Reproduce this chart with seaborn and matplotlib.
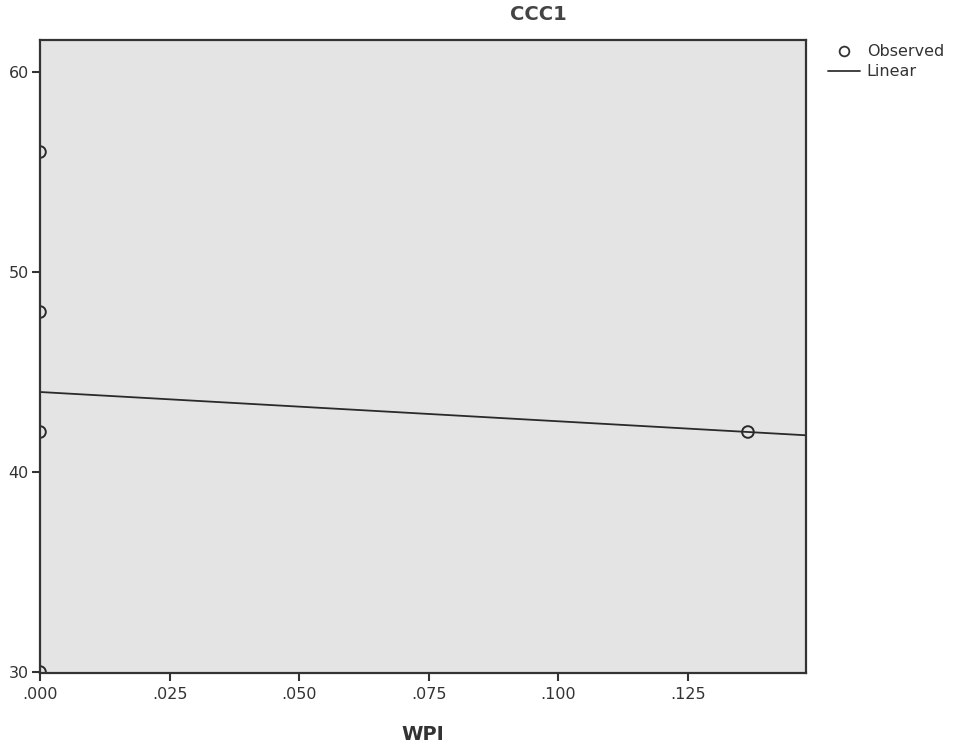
import numpy as np
import pandas as pd
import matplotlib
matplotlib.use("Agg")
import matplotlib.pyplot as plt
import seaborn as sns
from matplotlib.lines import Line2D
from matplotlib.ticker import FuncFormatter

# Data
wpi = [0.0, 0.0, 0.0, 0.0, 0.1366]
ccc1 = [56, 48, 42, 30, 42]
x_ticks = [0.000, 0.025, 0.050, 0.075, 0.100, 0.125]
y_ticks = [30, 40, 50, 60]

df = pd.DataFrame({"WPI": wpi, "CCC1": ccc1})

sns.set_style("white")
plt.rcParams['font.family'] = ['DejaVu Sans']

fig = plt.figure(figsize=(9.54, 7.44), dpi=100)
ax = fig.add_axes([40/954, 71/744, (806-40)/954, (673-40)/744])
ax.set_facecolor("#e4e4e4")
ax.set_xlim(0, 0.1478)
ax.set_ylim(29.95, 61.6)

sns.regplot(data=df, x="WPI", y="CCC1", ax=ax, scatter=False, ci=None,
            truncate=False, line_kws=dict(color="#2a2a2a", lw=1.3))
sns.scatterplot(data=df, x="WPI", y="CCC1", ax=ax, marker="o", s=70,
                facecolor="none", edgecolor="#2a2a2a", linewidth=1.4,
                zorder=1.5, clip_on=True)
ax.set_xlim(0, 0.1478)
ax.set_ylim(29.95, 61.6)

ax.set_xticks(x_ticks)
ax.set_yticks(y_ticks)
ax.xaxis.set_major_formatter(FuncFormatter(lambda v, p: f"{v:.3f}".lstrip("0")))
ax.tick_params(axis="both", direction="out", length=6, width=1.5,
               color="#333333", labelsize=11.5, labelcolor="#333333",
               bottom=True, left=True)
ax.tick_params(axis="x", pad=4)
ax.tick_params(axis="y", pad=2)
for sp in ax.spines.values():
    sp.set_color("#333333")
    sp.set_linewidth(1.6)

ax.set_xlabel("WPI", fontsize=14, fontweight="bold", color="#333333", labelpad=17)
ax.set_ylabel("")
fig.text(538/954, 1-15/744, "CCC1", fontsize=14, fontweight="bold",
         color="#444444", ha="center", va="center")

handles = [Line2D([], [], marker="o", ls="none", mfc="none", mec="#333333",
                  ms=7, mew=1.3, label="Observed"),
           Line2D([], [], color="#333333", lw=1.3, label="Linear")]
fig.legend(handles=handles, loc="upper left", bbox_to_anchor=(822/954, 1-38/744),
           frameon=False, fontsize=11.5, handlelength=2.0, handletextpad=0.4,
           labelspacing=0.3, borderaxespad=0, labelcolor="#333333")

fig.savefig("out.png", dpi=100)
